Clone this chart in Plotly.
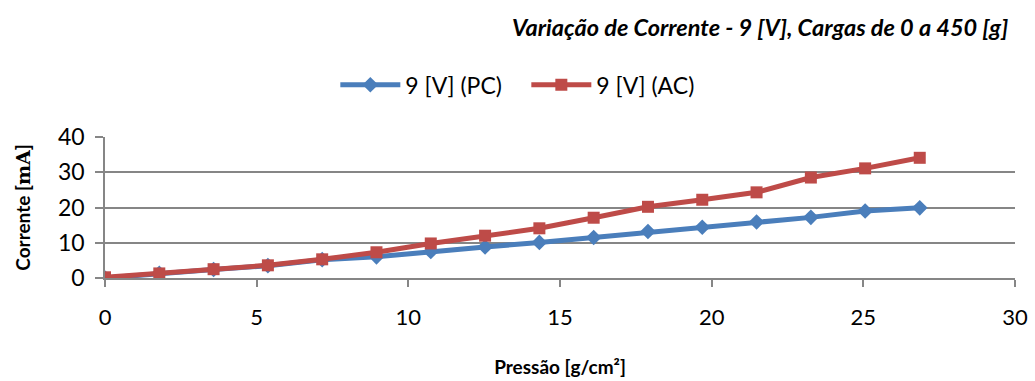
import plotly.graph_objects as go

pressao = [0, 1.79, 3.58, 5.37, 7.16, 8.95, 10.74, 12.53, 14.32, 16.11, 17.9, 19.69, 21.48, 23.27, 25.06, 26.86]
corrente_pc = [0.0, 1.3, 2.4, 3.5, 5.2, 6.0, 7.5, 8.8, 10.1, 11.5, 13.2, 14.4, 15.9, 17.2, 19.0, 19.9]
corrente_ac = [0.2, 1.3, 2.5, 3.6, 5.3, 7.3, 9.8, 12.0, 14.1, 17.1, 20.2, 22.2, 24.3, 28.5, 31.1, 34.1]

FONT = "Lato"

fig = go.Figure()
fig.add_trace(go.Scatter(x=pressao, y=corrente_pc, mode="lines+markers", name="9 [V] (PC)",
                         line=dict(color="#4a7ebb", width=5),
                         marker=dict(symbol="diamond", size=12, color="#4a7ebb")))
fig.add_trace(go.Scatter(x=pressao, y=corrente_ac, mode="lines+markers", name="9 [V] (AC)",
                         line=dict(color="#be4b48", width=5),
                         marker=dict(symbol="square", size=12, color="#be4b48")))

fig.update_layout(
    width=1035, height=381,
    margin=dict(l=105, r=20, t=137, b=103, autoexpand=False),
    paper_bgcolor="white", plot_bgcolor="white",
    font=dict(family=FONT, color="#000000"),
    showlegend=True,
    legend=dict(orientation="h", x=0.463, xanchor="center", y=1.37, yanchor="middle",
                font=dict(size=23, family=FONT), itemwidth=60,
                entrywidth=116, entrywidthmode="pixels"),
    annotations=[dict(text="<b><i>Variação de Corrente - 9 [V], Cargas de 0 a 450 [g]</i></b>",
                      xref="paper", yref="paper", x=0.994, xanchor="right",
                      y=1.78, yanchor="middle", showarrow=False,
                      font=dict(size=23.5, family=FONT))],
    xaxis=dict(range=[0, 30], dtick=5, tick0=0, showgrid=False, zeroline=False,
               showline=True, linecolor="#868686", linewidth=1.5, automargin=False,
               ticks="outside", ticklen=7, tickcolor="#868686", tickwidth=1.5,
               tickfont=dict(size=22, family=FONT), ticklabelstandoff=12,
               title=dict(text="<b>Pressão [g/cm²]</b>", font=dict(size=19, family=FONT), standoff=32)),
    yaxis=dict(range=[0, 40], dtick=10, showgrid=True, gridcolor="#868686", gridwidth=1.5,
               zeroline=False, showline=True, linecolor="#868686", linewidth=1.5, automargin=False,
               ticks="outside", ticklen=8, tickcolor="#868686", tickwidth=1.5,
               tickfont=dict(size=23, family=FONT), ticklabelstandoff=6,
               title=dict(text="<b>Corrente [<span style='font-family:DejaVu Serif'>mA</span>]</b>",
                          font=dict(size=19, family=FONT), standoff=22)),
)

fig.write_html("out.html")
